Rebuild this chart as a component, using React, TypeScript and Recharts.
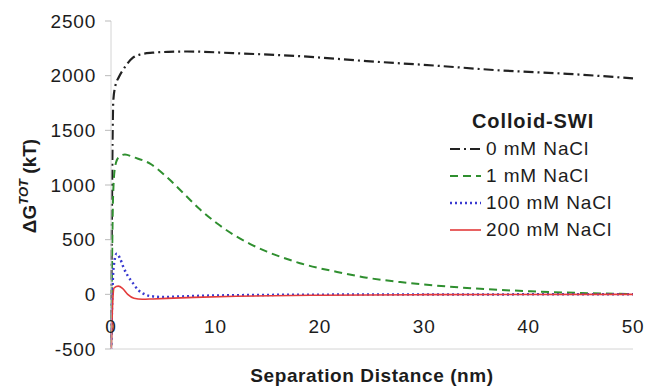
import { LineChart, Line, XAxis, YAxis } from 'recharts';

// Total interaction energy vs separation distance, colloid-SWI.
const FONT = '"Liberation Sans", Arial, sans-serif';
const INK = '#1c1c1c';
const FRAME = '#d4d4d4';

const X_TICKS = [0, 10, 20, 30, 40, 50];
const Y_TICKS = [-500, 0, 500, 1000, 1500, 2000, 2500];

// 0 mM NaCl
const X_0MM = [0, 0.05, 0.1, 0.16, 0.22, 0.4, 0.77, 1.2, 2.1, 2.8, 4, 5.5, 7.3, 11.7, 18.1, 24.5, 30.9, 37.3, 43.7, 50];
const Y_0MM = [-600, 200, 900, 1500, 1770, 1900, 1990, 2060, 2165, 2194, 2210, 2218, 2221, 2206, 2178, 2133, 2093, 2048, 2017, 1975];

// 1 mM NaCl
const X_1MM = [0, 0.1, 0.2, 0.38, 0.7, 1.34, 2.14, 3.74, 5.35, 6.94, 8.54, 10.14, 11.74, 13.34, 14.94, 16.5, 18.1, 19.7, 21.3, 24.5, 27.7, 30, 34.1, 40.2, 45, 50];
const Y_1MM = [-600, 300, 900, 1160, 1250, 1280, 1255, 1195, 1072, 925, 775, 650, 545, 460, 390, 335, 285, 245, 212, 152, 112, 90, 58, 28, 12, 3];

// 100 mM NaCl
const X_100MM = [0, 0.1, 0.25, 0.55, 0.9, 1.18, 1.6, 2.14, 2.6, 3.1, 4.06, 5, 6, 8, 12, 20, 30, 50];
const Y_100MM = [-600, -100, 250, 372, 320, 250, 170, 98, 40, 6, -20, -25, -22, -15, -8, -3, -1, 0];

// 200 mM NaCl
const X_200MM = [0, 0.15, 0.3, 0.7, 1.1, 1.6, 2.2, 3, 4, 6, 8, 12, 20, 30, 50];
const Y_200MM = [-600, -100, 60, 75, 55, 0, -35, -45, -42, -35, -28, -18, -8, -3, 0];

const zip = (xs: number[], ys: number[]) => xs.map((x, i) => ({ x, y: ys[i] }));

const SERIES = [
  { name: '0 mM NaCl', data: zip(X_0MM, Y_0MM), color: '#222222', dash: '10 4 2 4', width: 2.2 },
  { name: '1 mM NaCl', data: zip(X_1MM, Y_1MM), color: '#2f8f2f', dash: '8 5', width: 2 },
  { name: '100 mM NaCl', data: zip(X_100MM, Y_100MM), color: '#3a3ad0', dash: '2 3', width: 2.5 },
  { name: '200 mM NaCl', data: zip(X_200MM, Y_200MM), color: '#e33b3b', dash: undefined, width: 1.6 },
];

function XTick({ x, payload }: any) {
  return (
    <text x={x} y={333} textAnchor="middle" fontSize={19} fill={INK} fontFamily={FONT} letterSpacing={0.8}>
      {payload.value}
    </text>
  );
}

function LegendBox() {
  return (
    <div
      style={{
        position: 'absolute',
        left: 450,
        top: 108,
        fontFamily: FONT,
        color: INK,
        fontSize: 19,
        letterSpacing: 0.9,
      }}
    >
      <div style={{ fontWeight: 'bold', height: 27, lineHeight: '27px', paddingLeft: 22, fontSize: 20 }}>
        Colloid-SWI
      </div>
      {SERIES.map((s) => (
        <div key={s.name} style={{ display: 'flex', alignItems: 'center', height: 27, whiteSpace: 'nowrap' }}>
          <svg width={34} height={10} style={{ marginRight: 2 }}>
            <line x1={0} x2={31} y1={5} y2={5} stroke={s.color} strokeWidth={s.width} strokeDasharray={s.dash} />
          </svg>
          <span>{s.name}</span>
        </div>
      ))}
    </div>
  );
}

export default function App() {
  return (
    <div style={{ position: 'absolute', left: 0, top: 0, width: 648, height: 391, background: '#fff' }}>
      <LineChart width={648} height={391} margin={{ top: 21, right: 15, bottom: 0, left: 0 }}>
        <XAxis
          type="number"
          dataKey="x"
          domain={[0, 50]}
          ticks={X_TICKS}
          height={42}
          axisLine={{ stroke: FRAME }}
          tickLine={false}
          tick={<XTick />}
          label={{
            content: () => (
              <text x={372} y={382} textAnchor="middle" fontSize={19} fontWeight="bold" fill={INK} fontFamily={FONT} letterSpacing={0.6}>
                Separation Distance (nm)
              </text>
            ),
          }}
        />
        <XAxis xAxisId="top" orientation="top" type="number" domain={[0, 50]} height={0} axisLine={{ stroke: FRAME }} tick={false} tickLine={false} />
        <YAxis
          type="number"
          domain={[-500, 2500]}
          ticks={Y_TICKS}
          allowDataOverflow
          width={111}
          axisLine={{ stroke: FRAME }}
          tickLine={{ stroke: '#bbbbbb' }}
          tickSize={6}
          tickMargin={9}
          tick={{ fontSize: 19, fill: INK, fontFamily: FONT, letterSpacing: 0.8 }}
          label={{
            content: () => (
              <text
                transform="translate(36,186) rotate(-90)"
                textAnchor="middle"
                fontSize={19}
                fontWeight="bold"
                fill={INK}
                fontFamily={FONT}
              >
                ΔG
                <tspan fontStyle="italic" fontSize={13} dy={-8}>TOT</tspan>
                <tspan dy={8}> (kT)</tspan>
              </text>
            ),
          }}
        />
        <YAxis yAxisId="right" orientation="right" domain={[-500, 2500]} width={0} axisLine={{ stroke: FRAME }} tick={false} tickLine={false} />
        {SERIES.map((s) => (
          <Line
            key={s.name}
            name={s.name}
            data={s.data}
            dataKey="y"
            type="monotone"
            stroke={s.color}
            strokeWidth={s.width}
            strokeDasharray={s.dash}
            dot={false}
            activeDot={false}
            isAnimationActive={false}
          />
        ))}
      </LineChart>
      <LegendBox />
    </div>
  );
}
